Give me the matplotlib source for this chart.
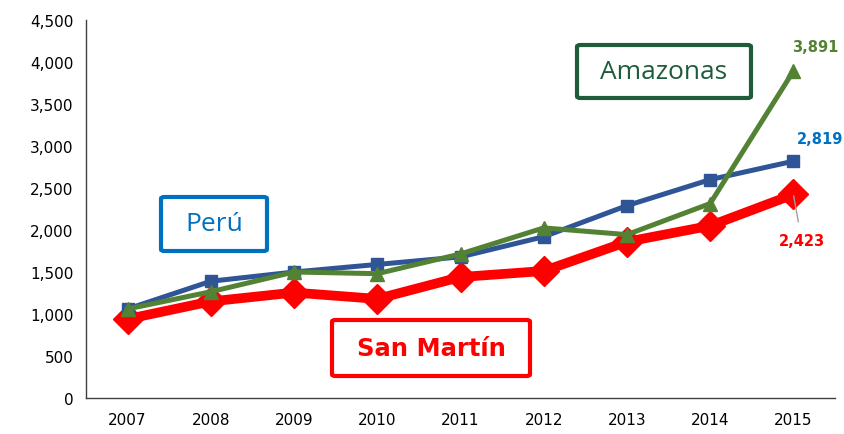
import matplotlib
matplotlib.use("Agg")
import matplotlib.pyplot as plt
from matplotlib.patches import FancyBboxPatch
from matplotlib.ticker import FuncFormatter

years = ["2007", "2008", "2009", "2010", "2011", "2012", "2013", "2014", "2015"]
peru = [1060, 1390, 1500, 1590, 1680, 1920, 2290, 2600, 2819]
amazonas = [1060, 1265, 1500, 1480, 1715, 2025, 1945, 2315, 3891]
san_martin = [940, 1150, 1255, 1180, 1440, 1512, 1860, 2050, 2423]

BLUE = "#2F5597"
GREEN = "#548235"
RED = "#FF0000"

fig = plt.figure(figsize=(8.44, 4.35), dpi=100)
ax = fig.add_axes([86 / 844, 1 - 399 / 435, (835 - 86) / 844, (399 - 21) / 435])

x = range(len(years))
ax.plot(x, san_martin, color=RED, lw=7, marker="D", ms=15, zorder=2)
ax.plot(x, peru, color=BLUE, lw=3.6, marker="s", ms=8.5, zorder=3)
ax.plot(x, amazonas, color=GREEN, lw=3.6, marker="^", ms=10, zorder=4)

ax.set_xlim(-0.5, len(years) - 0.5)
ax.set_ylim(0, 4500)
ax.set_yticks(range(0, 4501, 500))
ax.yaxis.set_major_formatter(FuncFormatter(lambda v, p: f"{int(v):,}"))
ax.set_xticks(list(x))
ax.set_xticklabels(years)
ax.tick_params(length=0, labelsize=11, pad=9)
ax.tick_params(axis="x", pad=10)
for s in ["top", "right"]:
    ax.spines[s].set_visible(False)
for s in ["left", "bottom"]:
    ax.spines[s].set_color("#404040")
    ax.spines[s].set_linewidth(1)

# end labels
last = len(years) - 1
ax.annotate(f"{amazonas[-1]:,}", (last, amazonas[-1]), xytext=(16, 18),
            textcoords="offset points", color=GREEN, fontsize=10.5,
            fontweight="bold", ha="center", va="center")
ax.annotate(f"{peru[-1]:,}", (last, peru[-1]), xytext=(19, 16),
            textcoords="offset points", color="#0070C0", fontsize=10.5,
            fontweight="bold", ha="center", va="center")
ax.annotate(f"{san_martin[-1]:,}", (last, san_martin[-1]), xytext=(6, -33),
            textcoords="offset points", color=RED, fontsize=10.5,
            fontweight="bold", ha="center", va="center",
            arrowprops=dict(arrowstyle="-", color="#A0A0A0", lw=1,
                            shrinkA=6, shrinkB=1))


def label_box(x0, y0, w, h, text, edge, **kw):
    W, H = 844, 435
    box = FancyBboxPatch((x0 / W, 1 - (y0 + h) / H), w / W, h / H,
                         boxstyle="round,pad=0,rounding_size=0.004",
                         transform=fig.transFigure, fill=True, fc="white",
                         ec=edge, lw=3, zorder=10)
    fig.patches.append(box)
    fig.text((x0 + w / 2) / W, 1 - (y0 + h / 2) / H, text,
             ha="center", va="center", zorder=11, **kw)


label_box(161, 198, 106, 54, "Perú", "#0070C0",
          color="#0070C0", fontsize=19, family="Open Sans")
label_box(577, 46, 174, 53, "Amazonas", "#1E5C3C",
          color="#1E5C3C", fontsize=19, family="Open Sans")
label_box(332, 321, 198, 56, "San Martín", RED,
          color=RED, fontsize=17.5, fontweight="bold", family="DejaVu Sans")

fig.savefig("out.png", dpi=100)
